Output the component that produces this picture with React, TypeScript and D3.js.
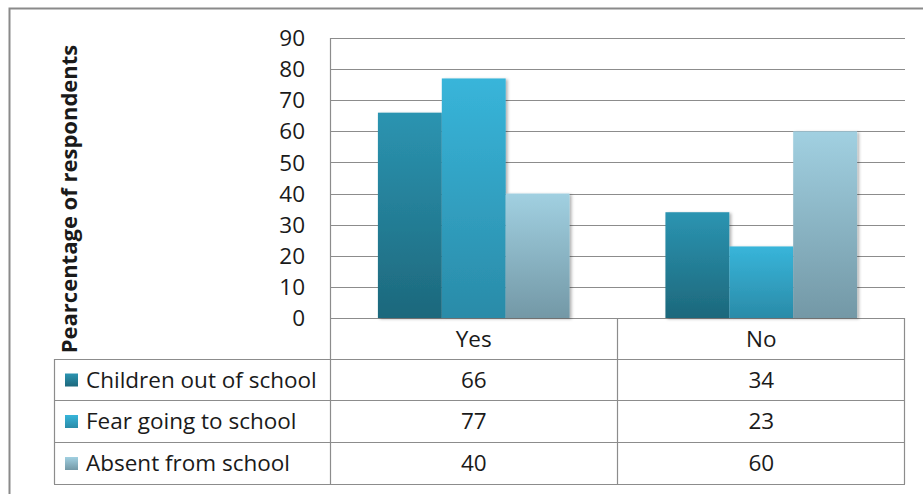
import React from "react";
import * as d3 from "d3";

const categories = ["Yes", "No"];
const seriesNames = ["Children out of school", "Fear going to school", "Absent from school"];
const childrenOut = [66, 34];
const fearGoing = [77, 23];
const absent = [40, 60];
const yTicks = [0, 10, 20, 30, 40, 50, 60, 70, 80, 90];
const yTitle = "Pearcentage of respondents";

const seriesValues = [childrenOut, fearGoing, absent];
const gradTop = ["#2b94b1", "#38b5da", "#a1d0e1"];
const gradBottom = ["#1d687c", "#2a8ba8", "#7398a6"];

const W = 923;
const H = 494;
const plotLeft = 330;
const plotRight = 905;
const plotTop = 38;
const plotBottom = 318;
const tableLeft = 54;
const rowBounds = [318, 359, 400, 442, 484];
const font = "'Open Sans', sans-serif";
const gridColor = "#8c8c8c";
const fs = 22.5;
const textColor = "#1a1a1a";

export default function App() {
  const y = d3.scaleLinear().domain([0, 90]).range([plotBottom, plotTop]);
  const x = d3.scaleBand<string>().domain(categories).range([plotLeft, plotRight]).padding(0);
  const xs = d3
    .scaleBand<string>()
    .domain(seriesNames)
    .range([0, x.bandwidth()])
    .paddingInner(0)
    .paddingOuter(0.75);

  return (
    <svg
      width={W}
      height={H}
      style={{ position: "absolute", left: 0, top: 0, background: "#fff" }}
      fontFamily={font}
    >
      <defs>
        {seriesNames.map((s, i) => (
          <linearGradient key={s} id={`g${i}`} x1="0" y1="0" x2="0" y2="1">
            <stop offset="0%" stopColor={gradTop[i]} />
            <stop offset="100%" stopColor={gradBottom[i]} />
          </linearGradient>
        ))}
        <filter id="sh" x="-10%" y="-10%" width="130%" height="130%">
          <feDropShadow dx="2" dy="1" stdDeviation="1.5" floodColor="#000" floodOpacity="0.3" />
        </filter>
      </defs>
      <rect x={0} y={0} width={W} height={H} fill="#fff" />
      {/* outer border */}
      <path d={`M9.5,${H + 2} V8.5 H${W + 2}`} fill="none" stroke="#8a8a8a" strokeWidth={2} />

      {/* gridlines */}
      {yTicks.map((t) => (
        <line
          key={t}
          x1={plotLeft}
          x2={plotRight}
          y1={Math.round(y(t)) + 0.5}
          y2={Math.round(y(t)) + 0.5}
          stroke={gridColor}
          strokeWidth={1.2}
        />
      ))}
      {/* y tick labels */}
      {yTicks.map((t) => (
        <text
          key={t}
          x={305}
          y={y(t)}
          dy="0.36em"
          textAnchor="end"
          fontSize={fs}
          fill={textColor}
        >
          {t}
        </text>
      ))}

      {/* bars */}
      {categories.map((c, ci) =>
        seriesNames.map((s, si) => {
          const v = seriesValues[si][ci];
          const x0 = (x(c) as number) + (xs(s) as number);
          return (
            <rect
              key={c + s}
              x={x0}
              y={y(v)}
              width={xs.bandwidth()}
              height={y(0) - y(v)}
              fill={`url(#g${si})`}
              filter="url(#sh)"
            />
          );
        })
      )}

      {/* table lines */}
      <line x1={plotLeft + 0.5} x2={plotLeft + 0.5} y1={plotTop} y2={rowBounds[4]} stroke={gridColor} strokeWidth={1.2} />
      {categories.map((c) => (
        <line
          key={c}
          x1={Math.round((x(c) as number) + x.bandwidth()) - 0.5}
          x2={Math.round((x(c) as number) + x.bandwidth()) - 0.5}
          y1={rowBounds[0]}
          y2={rowBounds[4]}
          stroke={gridColor}
          strokeWidth={1.2}
        />
      ))}
      <line x1={tableLeft + 0.5} x2={tableLeft + 0.5} y1={rowBounds[1]} y2={rowBounds[4]} stroke={gridColor} strokeWidth={1.2} />
      {rowBounds.slice(1).map((r) => (
        <line key={r} x1={tableLeft} x2={plotRight} y1={r + 0.5} y2={r + 0.5} stroke={gridColor} strokeWidth={1.2} />
      ))}

      {/* header */}
      {categories.map((c) => (
        <text
          key={c}
          x={(x(c) as number) + x.bandwidth() / 2}
          y={(rowBounds[0] + rowBounds[1]) / 2}
          dy="0.36em"
          textAnchor="middle"
          fontSize={fs}
          fill={textColor}
        >
          {c}
        </text>
      ))}

      {/* rows */}
      {seriesNames.map((s, si) => {
        const cy = (rowBounds[si + 1] + rowBounds[si + 2]) / 2;
        return (
          <g key={s}>
            <rect x={65} y={cy - 6} width={13} height={13} fill={`url(#g${si})`} />
            <text x={86} y={cy} dy="0.36em" fontSize={fs} fill={textColor}>
              {s}
            </text>
            {categories.map((c, ci) => (
              <text
                key={c}
                x={(x(c) as number) + x.bandwidth() / 2}
                y={cy}
                dy="0.36em"
                textAnchor="middle"
                fontSize={fs}
                fill={textColor}
              >
                {seriesValues[si][ci]}
              </text>
            ))}
          </g>
        );
      })}

      {/* y title */}
      <text
        transform={`translate(77,199) rotate(-90)`}
        textAnchor="middle"
        fontSize={22}
        fontWeight="bold"
        fill={textColor}
      >
        {yTitle}
      </text>
    </svg>
  );
}
